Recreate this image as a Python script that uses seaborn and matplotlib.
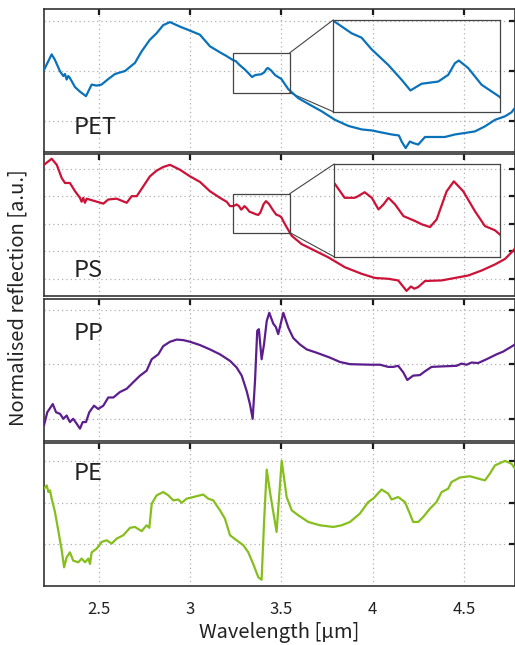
import matplotlib
matplotlib.use("Agg")
import matplotlib.pyplot as plt
from matplotlib.patches import Rectangle, ConnectionPatch
import seaborn as sns


sns.set_theme(style="white")
plt.rcParams["font.family"] = ["Noto Sans CJK JP", "DejaVu Sans"]

# ---- data (wavelength in um, reflection in a.u.) ----
pet_wl = [2.200, 2.242, 2.260, 2.288, 2.306, 2.315, 2.324, 2.333, 2.342, 2.370,
          2.397, 2.430, 2.461, 2.488, 2.515, 2.552, 2.589, 2.644, 2.698, 2.735,
          2.780, 2.817, 2.853, 2.890, 2.945, 3.000, 3.054, 3.109, 3.164, 3.200,
          3.233, 3.251, 3.269, 3.299, 3.323, 3.339, 3.359, 3.389, 3.407, 3.419,
          3.426, 3.443, 3.467, 3.500, 3.538, 3.593, 3.666, 3.721, 3.794, 3.867,
          3.940, 3.995, 4.049, 4.104, 4.144, 4.159, 4.181, 4.204, 4.222, 4.250,
          4.287, 4.341, 4.396, 4.451, 4.506, 4.560, 4.615, 4.670, 4.725, 4.761,
          4.780]
pet_refl = [1.02, 1.33, 1.22, 0.99, 0.90, 0.94, 0.83, 0.90, 0.86, 0.68,
            0.59, 0.50, 0.73, 0.71, 0.73, 0.84, 0.94, 1.00, 1.16, 1.39,
            1.62, 1.75, 1.91, 1.97, 1.88, 1.80, 1.72, 1.49, 1.37, 1.296,
            1.221, 1.195, 1.126, 1.033, 0.945, 0.881, 0.921, 0.934, 0.974, 1.043,
            1.059, 1.014, 0.915, 0.842, 0.64, 0.46, 0.31, 0.20, 0.03, -0.09,
            -0.16, -0.18, -0.22, -0.26, -0.28, -0.40, -0.53, -0.40, -0.43, -0.46,
            -0.31, -0.31, -0.31, -0.26, -0.23, -0.20, -0.10, 0.03, 0.10, 0.18,
            0.27]

ps_wl = [2.200, 2.242, 2.270, 2.297, 2.315, 2.342, 2.370, 2.397, 2.406, 2.415,
         2.424, 2.434, 2.479, 2.525, 2.552, 2.598, 2.653, 2.680, 2.708, 2.744,
         2.780, 2.817, 2.853, 2.890, 2.945, 3.000, 3.054, 3.109, 3.164, 3.201,
         3.219, 3.237, 3.243, 3.255, 3.268, 3.280, 3.289, 3.298, 3.310, 3.325,
         3.346, 3.358, 3.373, 3.385, 3.403, 3.416, 3.433, 3.454, 3.472, 3.490,
         3.500, 3.520, 3.557, 3.611, 3.684, 3.757, 3.848, 3.940, 4.013, 4.086,
         4.140, 4.162, 4.186, 4.210, 4.228, 4.250, 4.287, 4.378, 4.451, 4.524,
         4.597, 4.670, 4.725, 4.770, 4.780]
ps_refl = [4.14, 4.36, 4.14, 3.66, 3.48, 3.48, 3.18, 2.94, 2.80, 2.94,
           2.76, 2.91, 2.82, 2.73, 2.88, 2.91, 2.76, 3.00, 3.00, 3.36,
           3.72, 3.93, 4.06, 4.14, 3.96, 3.72, 3.52, 3.18, 2.94, 2.795,
           2.640, 2.640, 2.657, 2.701, 2.640, 2.513, 2.567, 2.640, 2.567, 2.440,
           2.386, 2.350, 2.320, 2.404, 2.711, 2.820, 2.711, 2.494, 2.331, 2.285,
           2.234, 1.98, 1.56, 1.26, 1.02, 0.78, 0.42, 0.18, 0.03, 0.00,
           -0.06, -0.24, -0.44, -0.28, -0.36, -0.30, -0.08, -0.06, 0.03, 0.12,
           0.30, 0.52, 0.72, 1.02, 1.10]

pp_wl = [2.200, 2.218, 2.248, 2.266, 2.288, 2.306, 2.324, 2.342, 2.360, 2.379,
         2.397, 2.412, 2.430, 2.448, 2.461, 2.474, 2.497, 2.525, 2.552, 2.580,
         2.616, 2.653, 2.689, 2.726, 2.762, 2.790, 2.826, 2.853, 2.890, 2.927,
         2.963, 3.000, 3.054, 3.109, 3.164, 3.219, 3.255, 3.283, 3.310, 3.328,
         3.343, 3.356, 3.368, 3.377, 3.392, 3.405, 3.420, 3.434, 3.456, 3.470,
         3.483, 3.511, 3.538, 3.565, 3.602, 3.639, 3.693, 3.766, 3.821, 3.876,
         3.985, 4.040, 4.086, 4.113, 4.140, 4.168, 4.190, 4.222, 4.259, 4.287,
         4.323, 4.387, 4.460, 4.487, 4.515, 4.542, 4.578, 4.624, 4.679, 4.715,
         4.780]
pp_refl = [-0.12, 0.12, 0.27, 0.12, 0.09, 0.00, 0.06, -0.06, 0.00, -0.09,
           -0.18, -0.06, -0.06, 0.12, 0.18, 0.24, 0.18, 0.24, 0.39, 0.39,
           0.49, 0.55, 0.67, 0.79, 0.88, 1.09, 1.18, 1.33, 1.41, 1.45,
           1.44, 1.41, 1.35, 1.27, 1.18, 1.06, 0.94, 0.79, 0.51, 0.27,
           0.00, 0.70, 1.61, 1.64, 1.09, 1.36, 1.79, 1.94, 1.74, 1.68,
           1.55, 1.94, 1.67, 1.48, 1.36, 1.27, 1.21, 1.12, 1.04, 1.00,
           0.99, 0.99, 0.95, 0.95, 0.97, 0.85, 0.71, 0.79, 0.80, 0.87,
           0.95, 0.96, 0.97, 1.01, 0.99, 1.03, 1.02, 1.09, 1.18, 1.23,
           1.36]

pe_wl = [2.200, 2.215, 2.224, 2.233, 2.242, 2.260, 2.278, 2.297, 2.310, 2.324,
         2.342, 2.360, 2.388, 2.406, 2.425, 2.443, 2.452, 2.461, 2.489, 2.516,
         2.543, 2.571, 2.598, 2.634, 2.671, 2.698, 2.735, 2.762, 2.777, 2.790,
         2.817, 2.853, 2.881, 2.908, 2.936, 2.954, 2.981, 3.018, 3.072, 3.100,
         3.127, 3.164, 3.191, 3.219, 3.255, 3.292, 3.319, 3.346, 3.374, 3.392,
         3.405, 3.420, 3.440, 3.474, 3.502, 3.529, 3.557, 3.593, 3.648, 3.712,
         3.785, 3.830, 3.876, 3.930, 3.976, 4.003, 4.049, 4.086, 4.104, 4.140,
         4.177, 4.204, 4.222, 4.250, 4.277, 4.314, 4.350, 4.378, 4.414, 4.432,
         4.478, 4.533, 4.615, 4.642, 4.670, 4.725, 4.761, 4.780]
pe_refl = [1.34, 1.42, 1.26, 1.30, 1.10, 0.78, 0.34, -0.14, -0.55, -0.31,
           -0.19, -0.39, -0.43, -0.34, -0.43, -0.34, -0.47, -0.19, -0.10, 0.06,
           0.10, 0.02, 0.14, 0.22, 0.40, 0.42, 0.32, 0.46, 0.40, 0.98,
           1.18, 1.26, 1.18, 1.06, 1.08, 1.00, 1.10, 1.14, 1.20, 1.10,
           1.06, 0.82, 0.62, 0.22, 0.10, -0.02, -0.19, -0.47, -0.79, -0.85,
           0.50, 1.80, 1.20, 0.30, 2.01, 1.14, 0.82, 0.70, 0.54, 0.46,
           0.42, 0.46, 0.54, 0.74, 1.02, 1.10, 1.32, 1.22, 1.08, 1.14,
           1.02, 0.74, 0.54, 0.54, 0.66, 0.86, 1.02, 1.26, 1.34, 1.50,
           1.61, 1.64, 1.54, 1.70, 1.90, 2.01, 1.94, 1.82]

polymers = ["PET", "PS", "PP", "PE"]
x_ticks = [2.5, 3, 3.5, 4, 4.5]
x_tick_labels = ["2.5", "3", "3.5", "4", "4.5"]

# ---- layout / style (pixels of the 515x645 figure) ----
FIG_W, FIG_H = 515, 645
AX_LEFT, AX_RIGHT = 44, 515
PANEL_TOP, PANEL_H, PANEL_GAP = 9, 142.6, 2.2
XLIM = (2.2, 4.78)
FRAME = "#333333"

PANELS = {
    "PET": dict(wl=pet_wl, refl=pet_refl, color="#0A72BA", ylim=(-0.6, 2.23),
                yticks=[0, 1, 2], label_xy=(0.062, 0.125),
                zoom=dict(rect=(3.237, 0.57, 3.546, 1.36),
                          box=[0.614, 0.280, 0.354, 0.643],
                          xlim=(3.2, 3.5), ylim=(0.755, 1.30))),
    "PS": dict(wl=ps_wl, refl=ps_refl, color="#CC1236", ylim=(-0.64, 4.54),
               yticks=[0, 1, 2, 3, 4], label_xy=(0.062, 0.135),
               zoom=dict(rect=(3.233, 1.68, 3.546, 3.09),
                         box=[0.616, 0.278, 0.353, 0.650],
                         xlim=(3.2, 3.5), ylim=(1.995, 3.009))),
    "PP": dict(wl=pp_wl, refl=pp_refl, color="#5C1E8E", ylim=(-0.41, 2.2),
               yticks=[0, 1, 2], label_xy=(0.062, 0.71), zoom=None),
    "PE": dict(wl=pe_wl, refl=pe_refl, color="#86BE1E", ylim=(-1.0, 2.43),
               yticks=[0, 1, 2], label_xy=(0.062, 0.742), zoom=None),
}


def style_axes(ax, show_xlabels):
    ax.set_xlim(*XLIM)
    ax.set_xticks(x_ticks)
    if show_xlabels:
        ax.set_xticklabels(x_tick_labels)
    else:
        ax.set_xticklabels([])
    ax.set_yticklabels([])
    ax.tick_params(direction="in", top=True, right=True, length=4, width=1.6,
                   color="#1a1a1a", labelsize=12, labelcolor="#222222", pad=11)
    ax.grid(True, linestyle=(0, (1, 2.5)), color="#b0b0b0", linewidth=0.9)
    for spine in ax.spines.values():
        spine.set_color(FRAME)
        spine.set_linewidth(1.2)
    ax.set_xlabel("")
    ax.set_ylabel("")


def add_zoom(ax, zoom, wl, refl, color):
    x0, y0, x1, y1 = zoom["rect"]
    ax.add_patch(Rectangle((x0, y0), x1 - x0, y1 - y0, fill=False,
                           edgecolor="#444444", linewidth=0.9, zorder=4))
    ins = ax.inset_axes(zoom["box"])
    ins.set_facecolor("none")
    sns.lineplot(x=wl, y=refl, ax=ins, color=color, linewidth=1.6,
                 sort=False, estimator=None)
    ins.set_xlim(*zoom["xlim"])
    ins.set_ylim(*zoom["ylim"])
    ins.set_xticks([])
    ins.set_yticks([])
    ins.set_xlabel("")
    ins.set_ylabel("")
    for spine in ins.spines.values():
        spine.set_color("#444444")
        spine.set_linewidth(0.9)
    for corner_main, corner_ins in [((x1, y1), (0, 1)), ((x1, y0), (0, 0))]:
        con = ConnectionPatch(xyA=corner_main, coordsA=ax.transData,
                              xyB=corner_ins, coordsB=ins.transAxes,
                              color="#444444", linewidth=0.8)
        ax.add_artist(con)


fig = plt.figure(figsize=(FIG_W / 100, FIG_H / 100), dpi=100)

axes = []
for i, name in enumerate(polymers):
    p = PANELS[name]
    top = PANEL_TOP + i * (PANEL_H + PANEL_GAP)
    rect = [AX_LEFT / FIG_W, 1 - (top + PANEL_H) / FIG_H,
            (AX_RIGHT - AX_LEFT) / FIG_W, PANEL_H / FIG_H]
    ax = fig.add_axes(rect)
    sns.lineplot(x=p["wl"], y=p["refl"], ax=ax, color=p["color"],
                 linewidth=1.6, sort=False, estimator=None, zorder=3)
    ax.set_ylim(*p["ylim"])
    ax.set_yticks(p["yticks"])
    style_axes(ax, show_xlabels=(i == len(polymers) - 1))
    ax.text(p["label_xy"][0], p["label_xy"][1], name, transform=ax.transAxes,
            fontsize=17, color="#222222", ha="left", va="baseline")
    if p["zoom"] is not None:
        add_zoom(ax, p["zoom"], p["wl"], p["refl"], p["color"])
    axes.append(ax)

axes[-1].set_xlabel("Wavelength [µm]", fontsize=14.5, color="#222222", labelpad=3)
fig.text(18 / FIG_W, 1 - 298 / FIG_H, "Normalised reflection [a.u.]",
         rotation=90, ha="center", va="center", fontsize=14.5, color="#222222")

fig.savefig("out.png", dpi=100)
plt.close(fig)
